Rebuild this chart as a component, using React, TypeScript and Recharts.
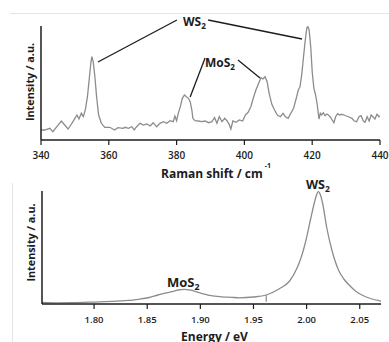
import React from 'react';
import { LineChart, Line, XAxis, YAxis, ReferenceLine } from 'recharts';

const ramanShift = [340.1, 341.1, 342.6, 343.5, 344.5, 346.0, 347.0, 348.0, 349.0, 350.0, 350.6, 351.2, 351.9, 352.5, 353.1, 353.7, 354.2, 354.7, 355.0, 355.4, 355.9, 356.4, 357.0, 357.8, 358.8, 360.3, 361.7, 362.7, 364.2, 364.8, 365.8, 366.8, 367.5, 368.2, 369.2, 370.2, 371.2, 372.2, 373.1, 374.1, 375.1, 376.1, 377.1, 378.1, 379.0, 379.5, 380.0, 380.5, 381.1, 381.7, 382.3, 382.9, 383.5, 384.0, 384.5, 384.8, 385.4, 386.4, 387.4, 388.4, 389.4, 390.4, 391.2, 391.9, 392.6, 393.4, 394.2, 394.9, 395.5, 396.0, 396.6, 397.5, 398.5, 399.5, 400.3, 401.1, 401.9, 402.6, 403.4, 404.2, 404.9, 405.5, 406.1, 406.7, 407.3, 408.1, 408.9, 409.7, 410.6, 411.4, 412.1, 412.9, 413.7, 414.5, 415.4, 415.9, 416.4, 416.9, 417.4, 417.9, 418.4, 418.7, 419.1, 419.6, 420.0, 420.5, 421.0, 421.5, 422.0, 422.4, 422.8, 423.3, 423.8, 424.3, 424.8, 425.3, 425.9, 426.4, 426.9, 427.5, 428.1, 428.7, 429.4, 430.1, 430.9, 431.7, 432.4, 433.1, 433.8, 434.4, 435.1, 435.6, 436.2, 436.8, 437.4, 437.9, 438.5, 439.1, 439.7, 440.0];
const ramanIntensity = [10, 10, 11.7, 8.3, 12.7, 19, 15, 11, 16, 21.7, 25, 21, 26.7, 23.3, 30.7, 43.3, 60, 76.7, 83.3, 78.3, 63.3, 43.3, 25, 16.7, 12.7, 12.7, 10, 12.3, 11.7, 12.7, 11.7, 13.3, 10, 13.3, 16.7, 15, 16, 14, 17.3, 13.3, 16.7, 18.3, 16.7, 19.3, 18.3, 24, 19.3, 26.7, 33.3, 41.7, 45, 43.3, 41.7, 38.3, 30, 21.7, 19.3, 19, 18.3, 19, 17.3, 18.3, 22.3, 16.7, 23.3, 18.3, 21.7, 19, 15.7, 11, 19, 17.7, 20, 19, 25, 27.7, 33.3, 41.7, 50, 56.7, 62.3, 61, 63.3, 58.3, 46.7, 35.7, 30, 25, 23.3, 26.7, 23.3, 21.7, 26.7, 31.7, 43, 50, 53.3, 65, 81.7, 98.3, 111.7, 113.5, 110, 91.7, 68.3, 51.7, 45, 35, 21, 26.7, 25, 27.3, 24.3, 26, 25, 23.3, 20, 17.3, 23.3, 26.3, 25, 25.7, 25, 24, 23, 21.7, 19, 18.3, 23.3, 24.3, 19, 17.7, 23.3, 19, 25, 23.3, 21, 25.7, 23.3, 24.3];

const energy = [1.751, 1.765, 1.779, 1.795, 1.810, 1.825, 1.842, 1.852, 1.860, 1.867, 1.873, 1.879, 1.885, 1.891, 1.898, 1.904, 1.910, 1.920, 1.929, 1.937, 1.950, 1.962, 1.974, 1.984, 1.991, 1.995, 1.999, 2.004, 2.007, 2.009, 2.011, 2.013, 2.015, 2.019, 2.024, 2.030, 2.035, 2.040, 2.046, 2.052, 2.060, 2.068, 2.070];
const plIntensity = [1.5, 1.2, 1.3, 1.8, 2.3, 3.2, 4.7, 6.5, 9, 10.8, 12.3, 14, 14.7, 13.8, 11.7, 9.8, 8.3, 7.2, 6.7, 6.2, 7.0, 9.0, 15, 23, 36, 47, 62, 86, 100, 108, 112.3, 109, 101, 76, 53, 34, 25, 19, 13, 9, 5.5, 3.3, 3];

const ramanTicks = [340, 360, 380, 400, 420, 440];
const energyTicks = [1.8, 1.85, 1.9, 1.95, 2.0, 2.05];

const ramanData = ramanShift.map((x, i) => ({ x, y: ramanIntensity[i] }));
const plData = energy.map((x, i) => ({ x, y: plIntensity[i] }));

const FONT = '"Open Sans", "DejaVu Sans", sans-serif';
const INK = '#1c1c1c';
const CURVE = '#8c8c8c';

const Chem = ({ x, y, base, size }: { x: number; y: number; base: string; size: number }) => (
  <text x={x} y={y} fontFamily={FONT} fontWeight={700} fontSize={size} fill={INK}>
    {base}
    <tspan dy={3} fontSize={size * 0.68}>2</tspan>
  </text>
);

export default function App() {
  return (
    <div style={{ position: 'absolute', left: 0, top: 0, width: 389, height: 342, background: '#fff', overflow: 'hidden' }}>
      <div style={{ position: 'absolute', left: 10, top: 13, width: 379, height: 0, borderTop: '1px solid #e4e4e4' }} />
      <div style={{ position: 'absolute', left: 12, top: 183, width: 0, height: 159, borderLeft: '1px solid #e4e4e4' }} />
      <div style={{ position: 'absolute', left: 0, top: 0 }}>
        <LineChart width={389} height={190} data={ramanData} margin={{ top: 26, right: 9, left: 0, bottom: 20 }}>
          <XAxis
            dataKey="x"
            type="number"
            domain={[340, 440]}
            ticks={ramanTicks}
            allowDataOverflow
            height={30}
            tickSize={5}
            tickMargin={7}
            axisLine={{ stroke: INK, strokeWidth: 1.5 }}
            tickLine={{ stroke: INK, strokeWidth: 1.2 }}
            tick={{ fill: INK, fontSize: 10, fontWeight: 600, fontFamily: FONT }}
          />
          <YAxis
            type="number"
            domain={[0, 114]}
            allowDataOverflow
            width={41}
            tick={false}
            tickLine={false}
            axisLine={{ stroke: INK, strokeWidth: 1.5 }}
          />
          <Line type="linear" dataKey="y" stroke={CURVE} strokeWidth={1.3} dot={false} isAnimationActive={false} />
          <ReferenceLine segment={[{ x: 380.1, y: 120 }, { x: 356.8, y: 78 }]} stroke={INK} strokeWidth={1.3} ifOverflow="visible" />
          <ReferenceLine segment={[{ x: 389.3, y: 120 }, { x: 417.0, y: 101 }]} stroke={INK} strokeWidth={1.3} ifOverflow="visible" />
          <ReferenceLine segment={[{ x: 388.4, y: 82 }, { x: 384.0, y: 43 }]} stroke={INK} strokeWidth={1.3} ifOverflow="visible" />
          <ReferenceLine segment={[{ x: 398.1, y: 80 }, { x: 404.6, y: 62 }]} stroke={INK} strokeWidth={1.3} ifOverflow="visible" />
          <Chem x={183} y={26} base="WS" size={12} />
          <Chem x={205} y={67} base="MoS" size={12} />
          <text x={33.5} y={82} transform="rotate(-90 33.5 82)" textAnchor="middle" fontFamily={FONT} fontWeight={700} fontSize={10.8} fill={INK}>
            Intensity / a.u.
          </text>
          <text x={161} y={178} fontFamily={FONT} fontWeight={700} fontSize={12} fill={INK}>
            Raman shift / cm
            <tspan dx={2} dy={-10} fontSize={7}>-1</tspan>
          </text>
        </LineChart>
      </div>
      <div style={{ position: 'absolute', left: 0, top: 170 }}>
        <LineChart width={389} height={172} data={plData} margin={{ top: 21, right: 8, left: 0, bottom: 8 }}>
          <XAxis
            dataKey="x"
            type="number"
            domain={[1.751, 2.07]}
            ticks={energyTicks}
            allowDataOverflow
            height={30}
            tickSize={5}
            tickMargin={7}
            tickFormatter={(v: number) => v.toFixed(2)}
            axisLine={{ stroke: INK, strokeWidth: 1.5 }}
            tickLine={{ stroke: INK, strokeWidth: 1.2 }}
            tick={{ fill: INK, fontSize: 9.5, fontWeight: 600, fontFamily: FONT }}
          />
          <YAxis
            type="number"
            domain={[0, 113]}
            allowDataOverflow
            width={42}
            tick={false}
            tickLine={false}
            axisLine={{ stroke: INK, strokeWidth: 1.5 }}
          />
          <Line type="monotone" dataKey="y" stroke={CURVE} strokeWidth={1.3} dot={false} isAnimationActive={false} />
          <ReferenceLine segment={[{ x: 1.962, y: 2.3 }, { x: 1.962, y: 9 }]} stroke={CURVE} strokeWidth={1.2} ifOverflow="visible" />
          <Chem x={167} y={117} base="MoS" size={13} />
          <Chem x={306} y={19} base="WS" size={12.5} />
          <text x={34.5} y={72.5} transform="rotate(-90 34.5 72.5)" textAnchor="middle" fontFamily={FONT} fontWeight={700} fontSize={10.8} fill={INK}>
            Intensity / a.u.
          </text>
          <text x={214.5} y={170.5} textAnchor="middle" fontFamily={FONT} fontWeight={700} fontSize={12} fill={INK}>
            Energy / eV
          </text>
        </LineChart>
      </div>
    </div>
  );
}
